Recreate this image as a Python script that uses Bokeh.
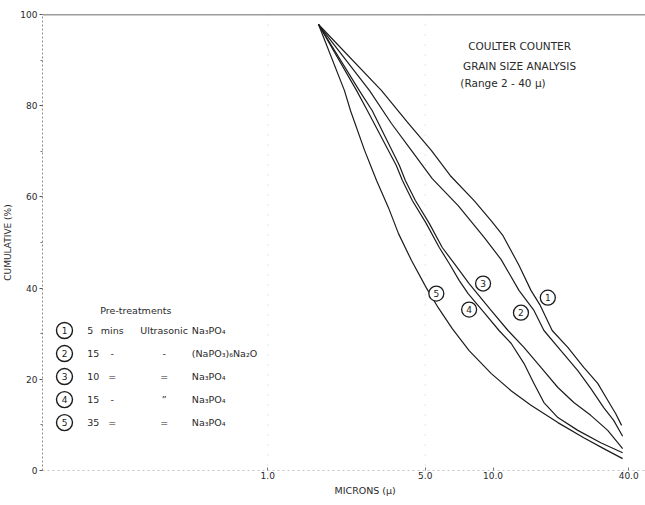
from bokeh.plotting import figure
from bokeh.models import FixedTicker, Span, Title, Range1d, PrintfTickFormatter
from bokeh.core.properties import value
from bokeh.embed import file_html
from bokeh.resources import INLINE

# ---------------- data ----------------
x_ticks = [1, 5, 10, 40]
y_ticks = [0, 20, 40, 60, 80, 100]
y_minor = [10, 30, 50, 70, 90]

c1_x = [1.68, 3.20, 4.21, 5.32, 6.45, 8.24, 9.80, 11.07, 13.03, 14.73, 16.2, 18.3, 21.47, 25.27, 29.15, 32.28, 35.0, 37.2]
c1_y = [97.8, 83.3, 76.1, 70.2, 64.7, 59.2, 54.8, 51.5, 45.0, 39.5, 36.2, 30.7, 27.0, 22.6, 19.1, 15.4, 12.5, 9.9]

c2_x = [1.68, 2.83, 3.54, 4.34, 5.37, 7.00, 9.13, 10.85, 13.03, 15.19, 16.82, 20.0, 23.78, 27.14, 30.99, 34.31, 37.6]
c2_y = [97.8, 83.3, 76.1, 70.2, 64.0, 58.1, 51.1, 46.3, 39.5, 35.1, 30.7, 26.3, 21.9, 18.0, 13.8, 11.0, 7.5]

c3_x = [1.68, 2.55, 2.91, 3.84, 4.08, 4.52, 5.21, 5.95, 6.72, 7.83, 9.80, 11.65, 13.71, 16.31, 19.40, 22.83, 27.14, 32.28, 37.6]
c3_y = [97.8, 83.3, 78.9, 66.9, 63.6, 59.2, 54.2, 48.9, 45.4, 41.0, 35.1, 30.7, 27.0, 22.6, 18.2, 14.9, 12.1, 8.8, 4.8]

c4_x = [1.68, 2.48, 2.77, 3.72, 3.96, 4.38, 5.05, 5.77, 6.39, 7.07, 7.75, 9.13, 10.63, 12.02, 13.71, 15.19, 16.82, 19.40, 23.78, 30.06, 37.6]
c4_y = [97.8, 83.3, 78.9, 66.9, 63.6, 59.2, 54.2, 48.9, 45.4, 41.7, 38.8, 34.6, 30.7, 27.9, 23.5, 19.1, 14.9, 11.6, 8.8, 6.1, 3.9]

c5_x = [1.68, 2.19, 2.33, 2.69, 3.04, 3.43, 3.80, 4.34, 5.05, 5.71, 6.59, 7.83, 9.80, 12.02, 14.73, 19.40, 25.27, 30.99, 37.6]
c5_y = [97.8, 83.3, 78.9, 70.2, 63.6, 57.7, 52.0, 46.1, 40.1, 35.7, 31.1, 26.3, 21.3, 17.5, 14.3, 10.5, 7.2, 4.8, 2.6]

curve_ids = ["1", "2", "3", "4", "5"]
tag_x = [17.5, 13.3, 9.03, 7.83, 5.60]
tag_y = [37.9, 34.6, 41.0, 35.3, 38.8]

legend_minutes = ["5", "15", "10", "15", "35"]
legend_col2 = ["mins", "-", "=", "-", "="]
legend_col3 = ["Ultrasonic", "-", "=", "\u201d", "="]
legend_chem = ["Na\u2083PO\u2084", "(NaPO\u2083)\u2086Na\u2082O", "Na\u2083PO\u2084", "Na\u2083PO\u2084", "Na\u2083PO\u2084"]

title_lines = ["COULTER   COUNTER", "GRAIN  SIZE  ANALYSIS", "(Range 2 - 40 \u00b5)"]

FONT = "DejaVu Sans"
INK = "#1c1c1c"
TXT = "#2a2a2a"

p = figure(width=645, height=505, x_axis_type="log",
           x_range=Range1d(0.1, 47.5), y_range=Range1d(0, 100),
           output_backend="svg", toolbar_location=None,
           min_border_left=38, min_border_right=0, min_border_top=14, min_border_bottom=35)
p.outline_line_color = None
p.background_fill_color = "white"
p.border_fill_color = "white"
p.xgrid.grid_line_color = None
p.ygrid.grid_line_color = None

# x axis
p.xaxis.ticker = FixedTicker(ticks=x_ticks)
p.xaxis.formatter = PrintfTickFormatter(format="%.1f")
p.xaxis.axis_line_color = None
p.xaxis.major_tick_in = 3
p.xaxis.major_tick_out = 0
p.xaxis.major_tick_line_color = "#777777"
p.xaxis.minor_tick_line_color = None
p.xaxis.major_label_standoff = 1
p.xaxis.major_label_text_font = FONT
p.xaxis.major_label_text_font_size = "9px"
p.xaxis.major_label_text_color = TXT

# x axis title, placed under the axis (left-aligned with an offset)
p.add_layout(Title(text="MICRONS (\u00b5)", align="left", offset=292, standoff=3,
                   text_font=FONT, text_font_size="9.5px", text_font_style="normal",
                   text_color=TXT), "below")

# y axis
p.yaxis.ticker = FixedTicker(ticks=y_ticks, minor_ticks=y_minor)
p.yaxis.axis_line_color = "#8a8a8a"
p.yaxis.axis_line_dash = "2 2"
p.yaxis.major_tick_out = 3
p.yaxis.major_tick_in = 0
p.yaxis.minor_tick_out = 2
p.yaxis.minor_tick_in = 0
p.yaxis.major_tick_line_color = "#555555"
p.yaxis.minor_tick_line_color = "#777777"
p.yaxis.major_label_standoff = 2
p.yaxis.major_label_text_font = FONT
p.yaxis.major_label_text_font_size = "9px"
p.yaxis.major_label_text_color = TXT
p.yaxis.axis_label = "CUMULATIVE (%)"
p.yaxis.axis_label_text_font = FONT
p.yaxis.axis_label_text_font_size = "9px"
p.yaxis.axis_label_text_font_style = "normal"
p.yaxis.axis_label_text_color = TXT
p.yaxis.axis_label_standoff = 4

# frame lines
p.add_layout(Span(location=100, dimension="width", line_color="#3a3a3a", line_width=1.5))
p.add_layout(Span(location=0, dimension="width", line_color="#8a8a8a", line_width=1, line_dash="2 3"))
for xv in [1, 5]:
    p.add_layout(Span(location=xv, dimension="height", line_color="#aaaaaa", line_width=1,
                      line_dash="1 9", line_alpha=0.6))

# curves
for xs, ys in [(c1_x, c1_y), (c2_x, c2_y), (c3_x, c3_y), (c4_x, c4_y), (c5_x, c5_y)]:
    p.line(xs, ys, line_color=INK, line_width=1.2, line_join="round")

# curve tags
p.scatter(tag_x, tag_y, marker="circle", size=15, fill_color="white", line_color=INK, line_width=1.3)
p.text(tag_x, tag_y, text=curve_ids, text_align="center", text_baseline="middle",
       text_font=value(FONT), text_font_size=value("9px"), text_color=INK)

# legend block (layout positions)
leg_top = 30.7
leg_step = 5.05
leg_y = [leg_top - i * leg_step for i in range(5)]
p.text([0.1805], [leg_top + 4.4], text=["Pre-treatments"], text_align="left", text_baseline="middle",
       text_font=value(FONT), text_font_size=value("9.5px"), text_color=TXT)
p.scatter([0.1252] * 5, leg_y, marker="circle", size=16, fill_color="white", line_color=INK, line_width=1.4)
p.text([0.1252] * 5, leg_y, text=curve_ids, text_align="center", text_baseline="middle",
       text_font=value(FONT), text_font_size=value("9px"), text_color=INK)
p.text([0.1581] * 5, leg_y, text=legend_minutes, text_align="left", text_baseline="middle",
       text_font=value(FONT), text_font_size=value("9.5px"), text_color=TXT)
p.text([0.2040] * 5, leg_y, text=legend_col2, text_align="center", text_baseline="middle",
       text_font=value(FONT), text_font_size=value("9.5px"), text_color=TXT)
p.text([0.3467] * 5, leg_y, text=legend_col3, text_align="center", text_baseline="middle",
       text_font=value(FONT), text_font_size=value("9.5px"), text_color=TXT)
p.text([0.46] * 5, leg_y, text=legend_chem, text_align="left", text_baseline="middle",
       text_font=value(FONT), text_font_size=value("9.5px"), text_color=TXT)

# title block
p.text([13.57, 13.57, 11.07], [93.0, 88.8, 84.9], text=title_lines, text_align="center", text_baseline="middle",
       text_font=value(FONT), text_font_size=value("10.5px"), text_color=TXT)

open("out.html", "w").write(file_html(p, INLINE))
